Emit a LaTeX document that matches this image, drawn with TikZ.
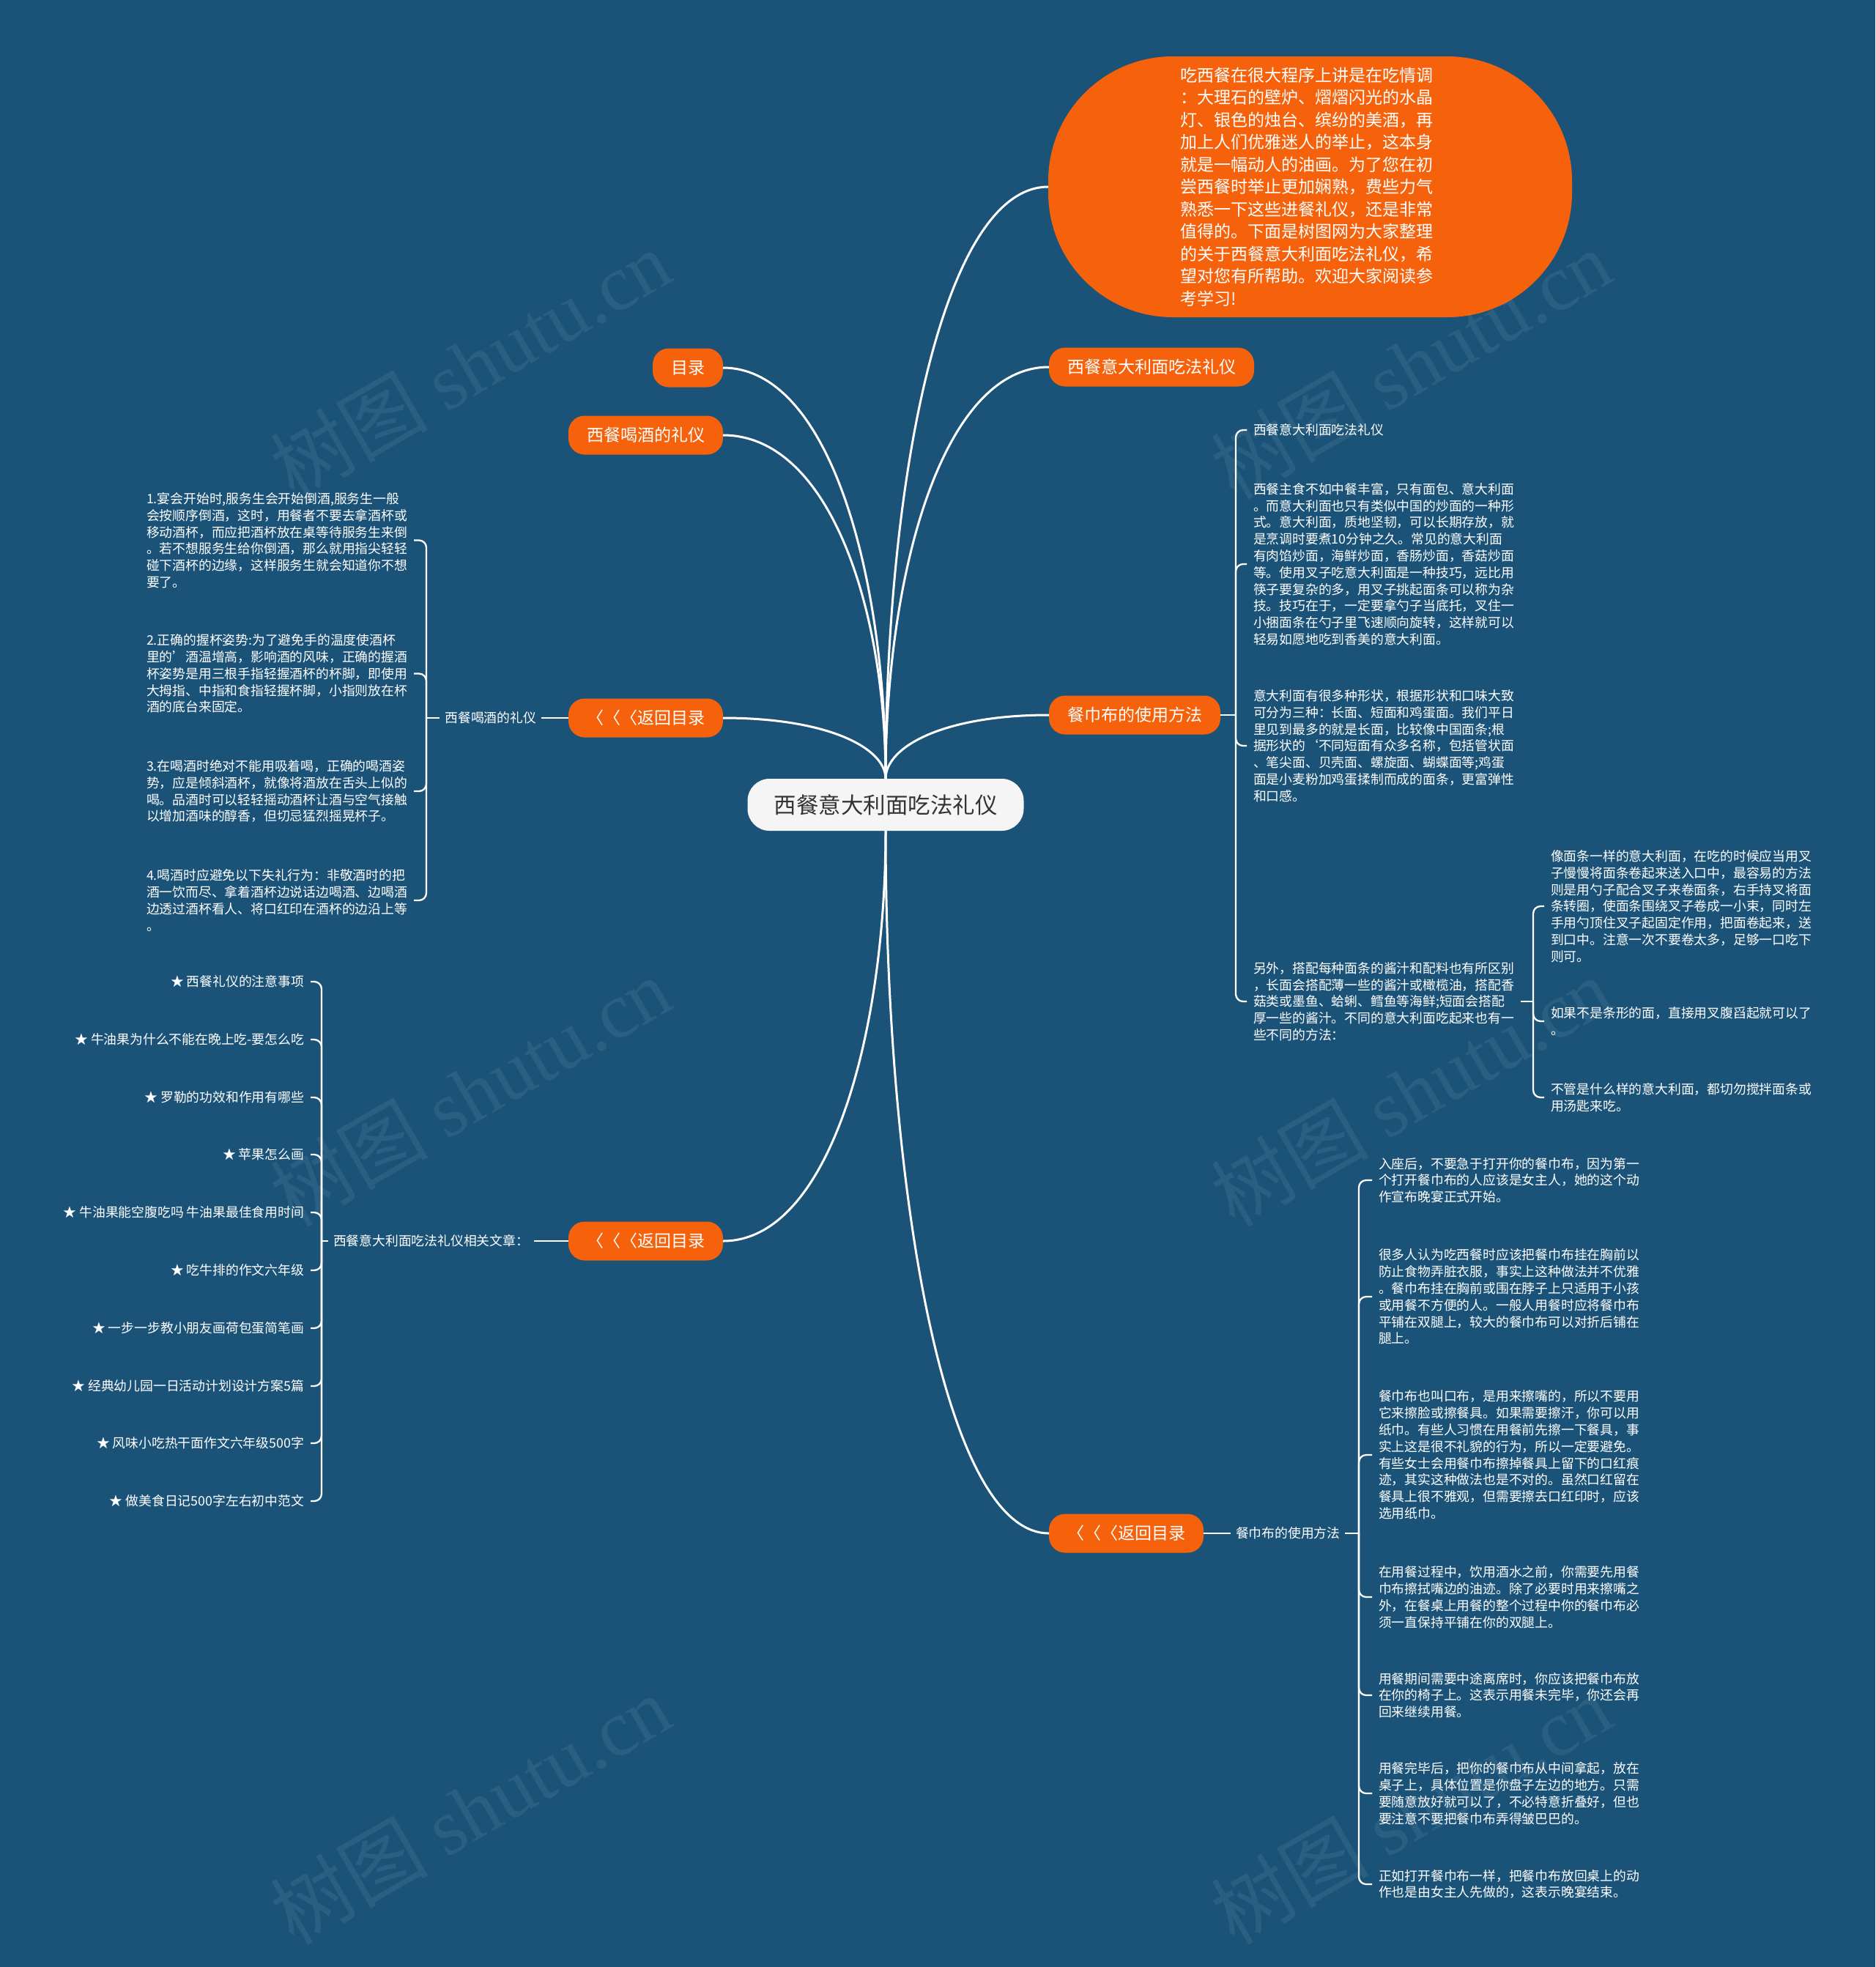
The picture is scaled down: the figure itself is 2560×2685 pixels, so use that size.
\documentclass[tikz,border=0pt]{standalone}
\usepackage{fontspec}
\setmainfont{Noto Sans CJK SC}
\newfontfamily\wmfont{Liberation Serif}
\usetikzlibrary{calc}
\definecolor{bg}{RGB}{27,83,120}
\definecolor{org}{RGB}{246,98,12}
\definecolor{cen}{RGB}{245,245,245}
\definecolor{dk}{RGB}{51,51,51}
\tikzset{
  every node/.style={inner sep=0pt, outer sep=0pt},
  topic/.style={fill=org, text=white, rounded corners=22pt, minimum height=53pt, inner xsep=25pt, font=\fontsize{23}{28}\selectfont},
  centernode/.style={fill=cen, text=dk, rounded corners=30pt, minimum height=71pt, minimum width=377pt, font=\fontsize{30.5}{34}\selectfont},
  bubble/.style={fill=org, text=white, rounded corners=170pt, minimum width=715pt, minimum height=356pt, text width=355pt, align=left, font=\fontsize{23}{30.5}\selectfont},
  leaf/.style={text=white, align=left, inner xsep=9pt, font=\fontsize{17.8}{22.8}\selectfont},
  lab/.style={text=white, inner xsep=7pt, font=\fontsize{17.8}{22.8}\selectfont},
  mainline/.style={draw=white, line width=3pt},
  brline/.style={draw=white, line width=2.3pt, rounded corners=10pt},
  wm/.style={text=white, opacity=0.07, rotate=30, font=\fontsize{108}{108}\selectfont}
}
\newcommand\mmconn[2]{\draw[mainline] (#1) .. controls ($(#1)!0.5!(#1|-#2)$) and ($(#2)!0.65!(#1|-#2)$) .. (#2);}
\begin{document}
\begin{tikzpicture}[x=1pt,y=-1pt]
\fill[bg] (0,0) rectangle (2560,2685);
\useasboundingbox (0,0) rectangle (2560,2685);

% central and first-level topics
\node[centernode] (c) at (1209,1098.5) {西餐意大利面吃法礼仪};
\node[bubble] (bub) at (1788.5,255) {吃西餐在很大程序上讲是在吃情调\\：大理石的壁炉、熠熠闪光的水晶\\灯、银色的烛台、缤纷的美酒，再\\加上人们优雅迷人的举止，这本身\\就是一幅动人的油画。为了您在初\\尝西餐时举止更加娴熟，费些力气\\熟悉一下这些进餐礼仪，还是非常\\值得的。下面是树图网为大家整理\\的关于西餐意大利面吃法礼仪，希\\望对您有所帮助。欢迎大家阅读参\\考学习!};
\node[topic, anchor=east] (mulu) at (987,502) {目录};
\node[topic, anchor=east] (hejiu) at (987,594) {西餐喝酒的礼仪};
\node[topic, anchor=east] (back1) at (987,980) {〈〈〈返回目录};
\node[topic, anchor=east] (back2) at (987,1694) {〈〈〈返回目录};
\node[topic, anchor=west] (yidali) at (1432,501) {西餐意大利面吃法礼仪};
\node[topic, anchor=west] (canjin) at (1432,976) {餐巾布的使用方法};
\node[topic, anchor=west] (back3) at (1432,2093) {〈〈〈返回目录};

\mmconn{c.north}{bub.west}
\mmconn{c.north}{mulu.east}
\mmconn{c.north}{hejiu.east}
\mmconn{c.north}{back1.east}
\mmconn{c.north}{yidali.west}
\mmconn{c.north}{canjin.west}
\mmconn{c.south}{back2.east}
\mmconn{c.south}{back3.west}

% left branch: wine etiquette
\node[lab, anchor=east] (lab1) at (739,980) {西餐喝酒的礼仪};
\coordinate (j1) at (582,980);
\node[leaf, anchor=west] (L1) at (191,737.5) {1.宴会开始时,服务生会开始倒酒,服务生一般\\会按顺序倒酒，这时，用餐者不要去拿酒杯或\\移动酒杯，而应把酒杯放在桌等待服务生来倒\\。若不想服务生给你倒酒，那么就用指尖轻轻\\碰下酒杯的边缘，这样服务生就会知道你不想\\要了。};
\node[leaf, anchor=west] (L2) at (191,919.5) {2.正确的握杯姿势:为了避免手的温度使酒杯\\里的'酒温增高，影响酒的风味，正确的握酒\\杯姿势是用三根手指轻握酒杯的杯脚，即使用\\大拇指、中指和食指轻握杯脚，小指则放在杯\\酒的底台来固定。};
\node[leaf, anchor=west] (L3) at (191,1080) {3.在喝酒时绝对不能用吸着喝，正确的喝酒姿\\势，应是倾斜酒杯，就像将酒放在舌头上似的\\喝。品酒时可以轻轻摇动酒杯让酒与空气接触\\以增加酒味的醇香，但切忌猛烈摇晃杯子。};
\node[leaf, anchor=west] (L4) at (191,1229) {4.喝酒时应避免以下失礼行为：非敬酒时的把\\酒一饮而尽、拿着酒杯边说话边喝酒、边喝酒\\边透过酒杯看人、将口红印在酒杯的边沿上等\\。};
\draw[brline] (back1.west) -- (lab1.east);
\draw[brline] (lab1.west) -- (j1);
\foreach \n in {L1,L2,L3,L4} {\draw[brline] (j1) |- (\n.east);}

% left branch: related articles
\node[lab, anchor=east] (lab2) at (729,1694) {西餐意大利面吃法礼仪相关文章：};
\coordinate (j2) at (439,1694);
\node[leaf, anchor=east, align=right] (st1) at (424,1340) {★ 西餐礼仪的注意事项};
\node[leaf, anchor=east, align=right] (st2) at (424,1419) {★ 牛油果为什么不能在晚上吃-要怎么吃};
\node[leaf, anchor=east, align=right] (st3) at (424,1498) {★ 罗勒的功效和作用有哪些};
\node[leaf, anchor=east, align=right] (st4) at (424,1576) {★ 苹果怎么画};
\node[leaf, anchor=east, align=right] (st5) at (424,1655) {★ 牛油果能空腹吃吗 牛油果最佳食用时间};
\node[leaf, anchor=east, align=right] (st6) at (424,1734) {★ 吃牛排的作文六年级};
\node[leaf, anchor=east, align=right] (st7) at (424,1813) {★ 一步一步教小朋友画荷包蛋简笔画};
\node[leaf, anchor=east, align=right] (st8) at (424,1892) {★ 经典幼儿园一日活动计划设计方案5篇};
\node[leaf, anchor=east, align=right] (st9) at (424,1970) {★ 风味小吃热干面作文六年级500字};
\node[leaf, anchor=east, align=right] (st10) at (424,2049) {★ 做美食日记500字左右初中范文};
\draw[brline] (back2.west) -- (lab2.east);
\draw[brline] (lab2.west) -- (j2);
\foreach \n in {st1,st2,st3,st4,st5,st6,st7,st8,st9,st10} {\draw[brline] (j2) |- (\n.east);}

% right branch: pasta
\coordinate (j3) at (1687,976);
\node[leaf, anchor=west] (R1) at (1702,587) {西餐意大利面吃法礼仪};
\node[leaf, anchor=west] (R2) at (1702,770) {西餐主食不如中餐丰富，只有面包、意大利面\\。而意大利面也只有类似中国的炒面的一种形\\式。意大利面，质地坚韧，可以长期存放，就\\是烹调时要煮10分钟之久。常见的意大利面\\有肉馅炒面，海鲜炒面，香肠炒面，香菇炒面\\等。使用叉子吃意大利面是一种技巧，远比用\\筷子要复杂的多，用叉子挑起面条可以称为杂\\技。技巧在于，一定要拿勺子当底托，叉住一\\小捆面条在勺子里飞速顺向旋转，这样就可以\\轻易如愿地吃到香美的意大利面。};
\node[leaf, anchor=west] (R3) at (1702,1018) {意大利面有很多种形状，根据形状和口味大致\\可分为三种：长面、短面和鸡蛋面。我们平日\\里见到最多的就是长面，比较像中国面条;根\\据形状的`不同短面有众多名称，包括管状面\\、笔尖面、贝壳面、螺旋面、蝴蝶面等;鸡蛋\\面是小麦粉加鸡蛋揉制而成的面条，更富弹性\\和口感。};
\node[leaf, anchor=west] (R4) at (1702,1367) {另外，搭配每种面条的酱汁和配料也有所区别\\，长面会搭配薄一些的酱汁或橄榄油，搭配香\\菇类或墨鱼、蛤蜊、鳕鱼等海鲜;短面会搭配\\厚一些的酱汁。不同的意大利面吃起来也有一\\些不同的方法：};
\draw[brline] (canjin.east) -- (j3);
\foreach \n in {R1,R2,R3,R4} {\draw[brline] (j3) |- (\n.west);}

\coordinate (j4) at (2093,1367);
\node[leaf, anchor=west] (S1) at (2108,1237) {像面条一样的意大利面，在吃的时候应当用叉\\子慢慢将面条卷起来送入口中，最容易的方法\\则是用勺子配合叉子来卷面条，右手持叉将面\\条转圈，使面条围绕叉子卷成一小束，同时左\\手用勺顶住叉子起固定作用，把面卷起来，送\\到口中。注意一次不要卷太多，足够一口吃下\\则可。};
\node[leaf, anchor=west] (S2) at (2108,1394) {如果不是条形的面，直接用叉腹舀起就可以了\\。};
\node[leaf, anchor=west] (S3) at (2108,1498) {不管是什么样的意大利面，都切勿搅拌面条或\\用汤匙来吃。};
\draw[brline] (R4.east) -- (j4);
\foreach \n in {S1,S2,S3} {\draw[brline] (j4) |- (\n.west);}

% right branch: napkin
\node[lab, anchor=west] (lab3) at (1680,2093) {餐巾布的使用方法};
\coordinate (j5) at (1855,2093);
\node[leaf, anchor=west] (N1) at (1873,1611) {入座后，不要急于打开你的餐巾布，因为第一\\个打开餐巾布的人应该是女主人，她的这个动\\作宣布晚宴正式开始。};
\node[leaf, anchor=west] (N2) at (1873,1770) {很多人认为吃西餐时应该把餐巾布挂在胸前以\\防止食物弄脏衣服，事实上这种做法并不优雅\\。餐巾布挂在胸前或围在脖子上只适用于小孩\\或用餐不方便的人。一般人用餐时应将餐巾布\\平铺在双腿上，较大的餐巾布可以对折后铺在\\腿上。};
\node[leaf, anchor=west] (N3) at (1873,1986) {餐巾布也叫口布，是用来擦嘴的，所以不要用\\它来擦脸或擦餐具。如果需要擦汗，你可以用\\纸巾。有些人习惯在用餐前先擦一下餐具，事\\实上这是很不礼貌的行为，所以一定要避免。\\有些女士会用餐巾布擦掉餐具上留下的口红痕\\迹，其实这种做法也是不对的。虽然口红留在\\餐具上很不雅观，但需要擦去口红印时，应该\\选用纸巾。};
\node[leaf, anchor=west] (N4) at (1873,2180) {在用餐过程中，饮用酒水之前，你需要先用餐\\巾布擦拭嘴边的油迹。除了必要时用来擦嘴之\\外，在餐桌上用餐的整个过程中你的餐巾布必\\须一直保持平铺在你的双腿上。};
\node[leaf, anchor=west] (N5) at (1873,2314) {用餐期间需要中途离席时，你应该把餐巾布放\\在你的椅子上。这表示用餐未完毕，你还会再\\回来继续用餐。};
\node[leaf, anchor=west] (N6) at (1873,2448) {用餐完毕后，把你的餐巾布从中间拿起，放在\\桌子上，具体位置是你盘子左边的地方。只需\\要随意放好就可以了，不必特意折叠好，但也\\要注意不要把餐巾布弄得皱巴巴的。};
\node[leaf, anchor=west] (N7) at (1873,2572) {正如打开餐巾布一样，把餐巾布放回桌上的动\\作也是由女主人先做的，这表示晚宴结束。};
\draw[brline] (back3.east) -- (lab3.west);
\draw[brline] (lab3.east) -- (j5);
\foreach \n in {N1,N2,N3,N4,N5,N6,N7} {\draw[brline] (j5) |- (\n.west);}

% watermarks
\foreach \wx/\wy in {642/497, 1926/497, 642/1490, 1926/1490, 642/2470, 1926/2470} {
  \node[wm] at (\wx,\wy) {树图 {\wmfont shutu.cn}};
}
\end{tikzpicture}
\end{document}
